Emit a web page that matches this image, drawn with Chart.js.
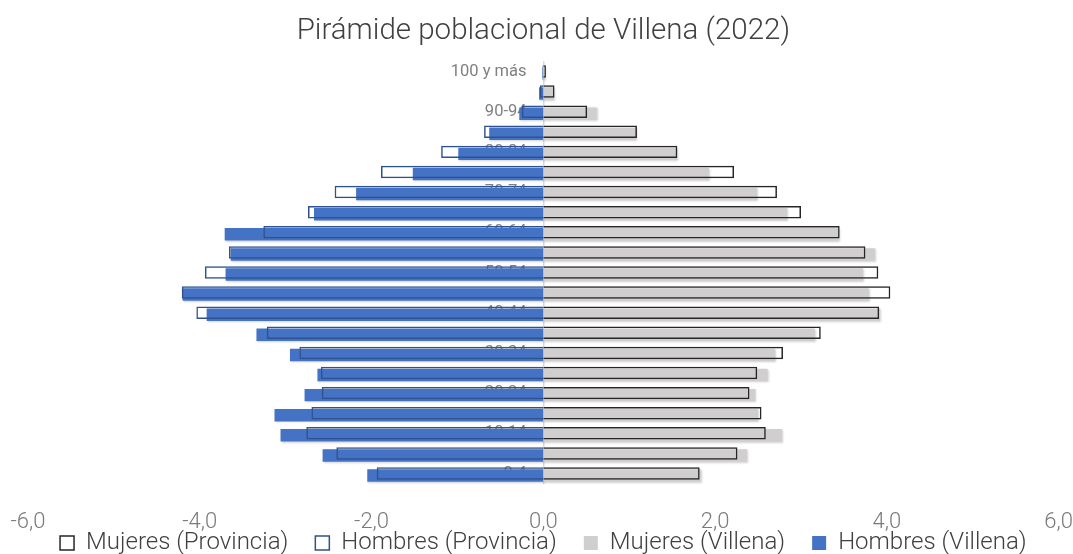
<!DOCTYPE html>
<html>
<head>
<meta charset="utf-8">
<script src="https://cdn.jsdelivr.net/npm/chart.js@4"></script>
<style>
  html, body { margin: 0; padding: 0; background: #fff; }
  #wrap { width: 1073px; height: 554px; }
</style>
</head>
<body>
<div id="wrap"><canvas id="myChart"></canvas></div>
<script>
const ageGroups = ["100 y más", "95-99", "90-94", "85-89", "80-84", "75-79", "70-74", "65-69", "60-64", "55-59",
  "50-54", "45-49", "40-44", "35-39", "30-34", "25-29", "20-24", "15-19", "10-14", "5-9", "0-4"];

const mujeresProvincia = [0.03, 0.13, 0.51, 1.09, 1.56, 2.22, 2.72, 3.0, 3.45, 3.75,
  3.9, 4.04, 3.91, 3.23, 2.79, 2.49, 2.4, 2.54, 2.59, 2.26, 1.82];
const hombresProvincia = [-0.01, -0.04, -0.25, -0.69, -1.19, -1.89, -2.43, -2.74, -3.26, -3.66,
  -3.94, -4.21, -4.04, -3.22, -2.84, -2.59, -2.58, -2.7, -2.76, -2.41, -1.94];
const mujeresVillena = [0.02, 0.12, 0.62, 1.08, 1.56, 1.93, 2.49, 2.84, 3.44, 3.86,
  3.72, 3.79, 3.92, 3.16, 2.7, 2.61, 2.47, 2.5, 2.78, 2.37, 1.83];
const hombresVillena = [-0.01, -0.05, -0.28, -0.63, -0.99, -1.52, -2.18, -2.67, -3.71, -3.64,
  -3.7, -4.2, -3.92, -3.34, -2.95, -2.63, -2.78, -3.13, -3.06, -2.57, -2.05];

const xTicks = [-6, -4, -2, 0, 2, 4, 6];

// fill bars sit a little lower than the outlines, like the Excel original
const shiftPlugin = {
  id: "shift",
  beforeDatasetDraw(chart, args) {
    const ds = chart.data.datasets[args.index];
    chart.ctx.save();
    if (ds.shiftY) {
      chart.ctx.translate(0, ds.shiftY);
      chart.ctx.shadowColor = "rgba(0,0,0,0.18)";
      chart.ctx.shadowBlur = 2;
      chart.ctx.shadowOffsetX = 1;
      chart.ctx.shadowOffsetY = 1;
    }
  },
  afterDatasetDraw(chart) {
    chart.ctx.restore();
  },
};

// legend hugs the x tick labels (wide item spacing would push it down)
const legendUp = {
  id: "legendUp",
  afterLayout(chart) {
    const lg = chart.legend;
    const dy = chart.scales.x.bottom - 5 - lg.options.labels.padding - lg.top;
    lg.top += dy;
    lg.bottom += dy;
  },
};

Chart.defaults.font.family = "Roboto";

new Chart(document.getElementById("myChart"), {
  type: "bar",
  data: {
    labels: ageGroups,
    datasets: [
      {
        label: "Mujeres (Provincia)",
        data: mujeresProvincia,
        backgroundColor: "rgba(255,255,255,0)",
        borderColor: "#262626",
        borderWidth: 1.5,
        order: 0,
      },
      {
        label: "Hombres (Provincia)",
        data: hombresProvincia,
        backgroundColor: "rgba(255,255,255,0)",
        borderColor: "#2f528f",
        borderWidth: 1.5,
        order: 0,
      },
      {
        label: "Mujeres (Villena)",
        data: mujeresVillena,
        backgroundColor: "#d0cece",
        borderWidth: 0,
        shiftY: 2,
        order: 1,
      },
      {
        label: "Hombres (Villena)",
        data: hombresVillena,
        backgroundColor: "#4472c4",
        borderWidth: 0,
        shiftY: 2,
        order: 1,
      },
    ],
  },
  options: {
    indexAxis: "y",
    responsive: true,
    maintainAspectRatio: false,
    animation: false,
    layout: { padding: { left: 28, right: 0, top: 0, bottom: -43 } },
    datasets: {
      bar: { grouped: false, categoryPercentage: 1, barPercentage: 0.62 },
    },
    scales: {
      x: {
        min: -6,
        max: 6,
        afterBuildTicks: (scale) => {
          scale.ticks = xTicks.map((v) => ({ value: v }));
        },
        grid: { display: false, drawTicks: true, tickLength: 26 },
        border: { display: false },
        ticks: {
          padding: 0,
          color: "#7a7a7a",
          font: { size: 22, weight: 300 },
          callback: (v) => v.toFixed(1).replace(".", ","),
        },
      },
      y: {
        position: { x: 0 },
        grid: { display: false, drawTicks: false },
        border: { display: true, color: "#d9d9d9", width: 1.5 },
        ticks: {
          autoSkip: false,
          padding: 0,
          color: "#808080",
          font: { size: 16.5 },
          // labels sit left of the centre line, with a small gap
          callback: function (v, i) {
            return i % 2 === 0 ? this.getLabelForValue(v) + "\u2002\u2002" : "";
          },
        },
      },
    },
    plugins: {
      title: {
        display: true,
        fullSize: false,
        text: "Pirámide poblacional de Villena (2022)",
        color: "#404040",
        font: { size: 29.5, weight: 300 },
        padding: { top: 14, bottom: 12 },
      },
      legend: {
        position: "bottom",
        fullSize: false,
        labels: {
          boxWidth: 14,
          boxHeight: 14,
          padding: 27,
          color: "#404040",
          font: { size: 24, weight: 300 },
        },
      },
      tooltip: { enabled: false },
    },
  },
  plugins: [shiftPlugin, legendUp],
});
</script>
</body>
</html>
